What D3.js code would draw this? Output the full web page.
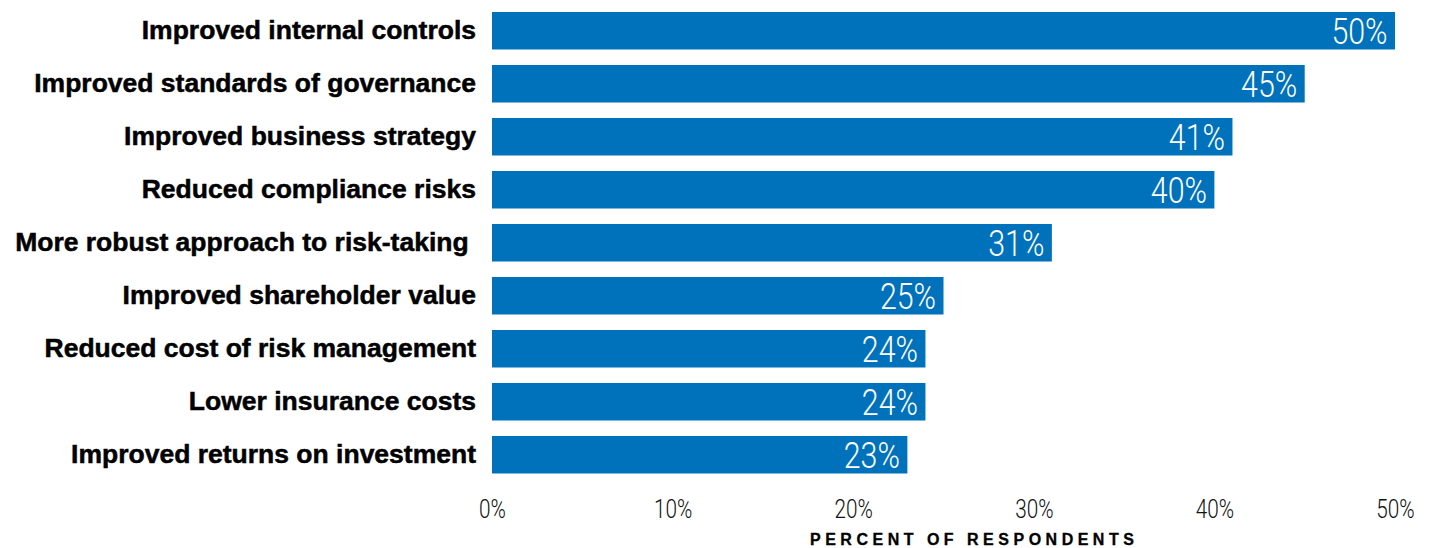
<!DOCTYPE html>
<html><head><meta charset="utf-8">
<script src="https://cdn.jsdelivr.net/npm/d3@7"></script>
<style>body{margin:0;background:#fff}svg{display:block}</style>
</head><body>
<script>
const categories = ["Improved internal controls","Improved standards of governance","Improved business strategy","Reduced compliance risks","More robust approach to risk-taking ","Improved shareholder value","Reduced cost of risk management","Lower insurance costs","Improved returns on investment"];
const values = [50,45,41,40,31,25,24,24,23];
const tickValues = [0,10,20,30,40,50];
const axisTitle = "PERCENT OF RESPONDENTS";

const W = 1432, H = 548;
const svg = d3.select("body").append("svg").attr("width", W).attr("height", H);
const x = d3.scaleLinear().domain([0,50]).range([492,1395]);
const y = d3.scaleBand().domain(categories).range([12, 473.5]).paddingInner(0.2925).paddingOuter(0);
const blue = "#0071bb";

svg.selectAll("rect.bar").data(values).enter().append("rect")
  .attr("class","bar")
  .attr("x", x(0)).attr("y",(d,i)=>y(categories[i]))
  .attr("width", d=>x(d)-x(0)).attr("height", y.bandwidth())
  .attr("fill", blue);

svg.selectAll("text.cat").data(categories).enter().append("text")
  .attr("class","cat")
  .attr("x", 476).attr("y", d=>y(d)+y.bandwidth()/2+8.5)
  .attr("text-anchor","end")
  .style("white-space","pre")
  .attr("font-family","'Liberation Sans', Arial, sans-serif")
  .attr("font-weight","bold").attr("font-size","26.5px").attr("fill","#000")
  .attr("stroke","#000").attr("stroke-width",0.5)
  .text(d=>d);

const vl = svg.selectAll("text.val").data(values).enter().append("text")
  .attr("class","val")
  .attr("x", d=>x(d)-7.5).attr("y",(d,i)=>y(categories[i])+y.bandwidth()/2+13.5)
  .attr("text-anchor","end")
  .attr("font-family","Roboto, sans-serif").attr("font-weight","300")
  .attr("font-size","37px").attr("fill","#fff")
  .text(d=>d+"%");
vl.each(function(){
  const L = this.getComputedTextLength();
  d3.select(this).attr("textLength", L*0.82).attr("lengthAdjust","spacingAndGlyphs");
});

const axis = d3.axisBottom(x).tickValues(tickValues).tickFormat(d=>d+"%").tickSize(0).tickPadding(0);
const g = svg.append("g").attr("transform","translate(0,518)").call(axis);
g.select(".domain").remove();
g.selectAll("text").attr("dy",0).attr("y",0)
  .attr("font-family","Roboto, sans-serif").attr("font-weight","300")
  .attr("font-size","25px").attr("fill","#111")
  .each(function(){
    const L = this.getComputedTextLength();
    d3.select(this).attr("textLength", L*0.83).attr("lengthAdjust","spacingAndGlyphs");
  });

svg.append("text").attr("x",810).attr("y",544.5)
  .attr("font-family","'Liberation Sans', Arial, sans-serif").attr("font-weight","bold")
  .attr("font-size","16px").attr("letter-spacing","4.5px").attr("fill","#000")
  .attr("stroke","#000").attr("stroke-width",0.3)
  .text(axisTitle);
</script>
</body></html>
